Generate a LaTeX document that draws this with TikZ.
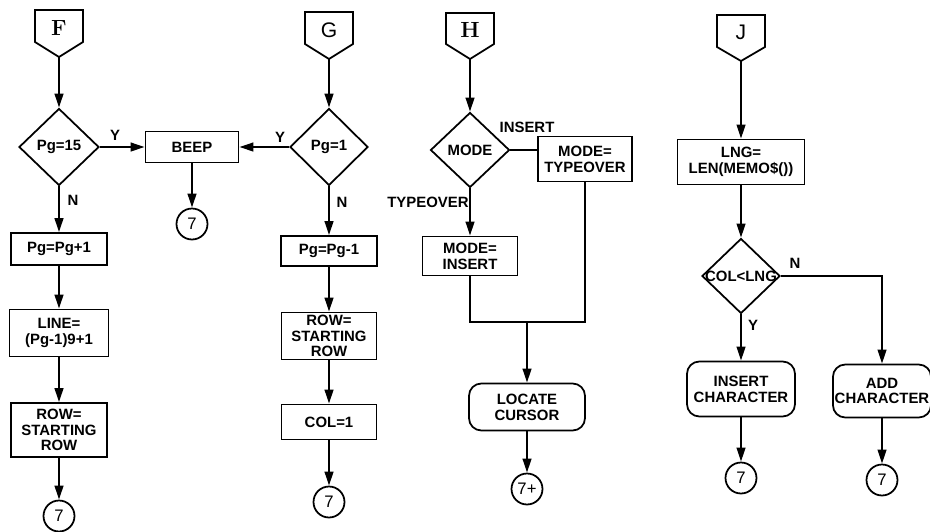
\documentclass[tikz,border=0pt]{standalone}
\usepackage{fontspec}
\newfontfamily\plotfont{Liberation Sans}
\usetikzlibrary{shapes.geometric,arrows.meta}

\tikzset{
  box/.style={draw, rectangle, align=center, inner sep=1pt,
    font=\plotfont\bfseries\fontsize{8.5}{9}\selectfont},
  rbox/.style={box, rounded corners=7pt},
  test/.style={draw, diamond, inner sep=0pt,
    font=\plotfont\bfseries\fontsize{8.5}{9}\selectfont},
  conn/.style={draw, circle, inner sep=0pt, minimum size=0.62cm,
    font=\plotfont\fontsize{9.5}{10}\selectfont},
  entry/.style={font=\bfseries\fontsize{12.5}{13}\selectfont},
  lbl/.style={inner sep=1pt, font=\plotfont\bfseries\fontsize{8.5}{9}\selectfont},
}

\begin{document}
\begin{tikzpicture}[x=0.02cm, y=-0.02cm, line width=1pt,
    >={Triangle[length=8pt,width=5pt]}]
  \useasboundingbox (0,0) rectangle (930,531);

  % F: next page
  \draw (35,10) -- ++(48,0) -- ++(0,32) -- ++(-24,15) -- ++(-24,-15) -- cycle;
  \node[entry] (F) at (59,28) {F};
  \coordinate (Ftip) at (59,57);
  \node[test, minimum width=1.6cm, minimum height=1.54cm] (d15) at (59,147) {Pg=15};
  \node[box, minimum width=1.92cm, minimum height=0.64cm] (pgp) at (59,249) {Pg=Pg+1};
  \node[box, minimum width=1.98cm, minimum height=0.94cm] (linef) at (59,333) {LINE=\\(Pg-1)9+1};
  \node[box, minimum width=1.92cm, minimum height=1.08cm] (rowf) at (59,430) {ROW=\\STARTING\\ROW};
  \node[conn] (c7f) at (59,516) {7};
  \node[box, minimum width=1.86cm, minimum height=0.62cm] (beep) at (192,147) {BEEP};
  \node[conn] (c7b) at (192,224) {7};

  \draw[->] (Ftip) -- (d15);
  \draw[->] (d15) -- (pgp);
  \draw[->] (pgp) -- (linef);
  \draw[->] (linef) -- (rowf);
  \draw[->] (rowf) -- (c7f);
  \draw[->] (d15) -- (beep);
  \draw[->] (beep) -- (c7b);
  \node[lbl] (yF) at (115,135) {Y};
  \node[lbl] (nF) at (73,200) {N};

  % G: previous page
  \draw (305,12) -- ++(48,0) -- ++(0,32) -- ++(-24,15) -- ++(-24,-15) -- cycle;
  \node[entry, font=\plotfont\fontsize{12}{13}\selectfont] (G) at (329,30) {G};
  \coordinate (Gtip) at (329,59);
  \node[test, minimum width=1.56cm, minimum height=1.54cm] (d1) at (329,147) {Pg=1};
  \node[box, minimum width=1.92cm, minimum height=0.6cm] (pgm) at (329,251) {Pg=Pg-1};
  \node[box, minimum width=1.9cm, minimum height=0.94cm] (rowg) at (329,336) {ROW=\\STARTING\\ROW};
  \node[box, minimum width=1.9cm, minimum height=0.7cm] (col1) at (329,422) {COL=1};
  \node[conn] (c7g) at (329,502) {7};

  \draw[->] (Gtip) -- (d1);
  \draw[->] (d1) -- (beep);
  \draw[->] (d1) -- (pgm);
  \draw[->] (pgm) -- (rowg);
  \draw[->] (rowg) -- (col1);
  \draw[->] (col1) -- (c7g);
  \node[lbl] (yG) at (280,137) {Y};
  \node[lbl] (nG) at (342,202) {N};

  % H: toggle mode
  \draw (446,13) -- ++(48,0) -- ++(0,31) -- ++(-24,15) -- ++(-24,-15) -- cycle;
  \node[entry] (H) at (470,30) {H};
  \coordinate (Htip) at (470,59);
  \node[test, minimum width=1.58cm, minimum height=1.5cm] (mode) at (470,150) {MODE};
  \node[box, minimum width=1.88cm, minimum height=0.9cm] (tover) at (585,159) {MODE=\\TYPEOVER};
  \node[box, minimum width=1.9cm, minimum height=0.78cm] (minsert) at (470,256) {MODE=\\INSERT};
  \coordinate (merge) at (527,322);
  \node[rbox, minimum width=2.32cm, minimum height=0.94cm] (locate) at (527,407) {LOCATE\\CURSOR};
  \node[conn] (c7p) at (527,489) {7+};

  \draw[->] (Htip) -- (mode);
  \draw (mode.east) -- (mode.east -| tover.west);
  \draw[->] (mode) -- (minsert);
  \draw (minsert) -- (minsert |- merge) -- (merge -| tover) -- (tover);
  \draw[->] (merge) -- (locate);
  \draw[->] (locate) -- (c7p);
  \node[lbl] (insH) at (527,127) {INSERT};
  \node[lbl] (tovH) at (428,202) {TYPEOVER};

  % J: add or insert character
  \draw (717,15) -- ++(48,0) -- ++(0,32) -- ++(-24,14) -- ++(-24,-14) -- cycle;
  \node[entry, font=\plotfont\fontsize{12}{13}\selectfont] (J) at (741,32) {J};
  \coordinate (Jtip) at (741,61);
  \node[box, minimum width=2.54cm, minimum height=0.9cm] (lng) at (741,162) {LNG=\\LEN(MEMO\$())};
  \node[test, minimum width=1.56cm, minimum height=1.5cm] (dcol) at (741,276) {\makebox[0pt]{COL<LNG}};
  \node[rbox, minimum width=2.16cm, minimum height=1.1cm] (ichar) at (741,389) {INSERT\\CHARACTER};
  \node[rbox, minimum width=1.94cm, minimum height=1.06cm] (achar) at (882,391) {ADD\\CHARACTER};
  \node[conn] (c7j) at (741,478) {7};
  \node[conn] (c7k) at (882,480) {7};

  \draw[->] (Jtip) -- (lng);
  \draw[->] (lng) -- (dcol);
  \draw[->] (dcol) -- (ichar);
  \draw[->] (dcol.east) -| (achar);
  \draw[->] (ichar) -- (c7j);
  \draw[->] (achar) -- (c7k);
  \node[lbl] (nJ) at (795,263) {N};
  \node[lbl] (yJ) at (753,325) {Y};
\end{tikzpicture}
\end{document}
